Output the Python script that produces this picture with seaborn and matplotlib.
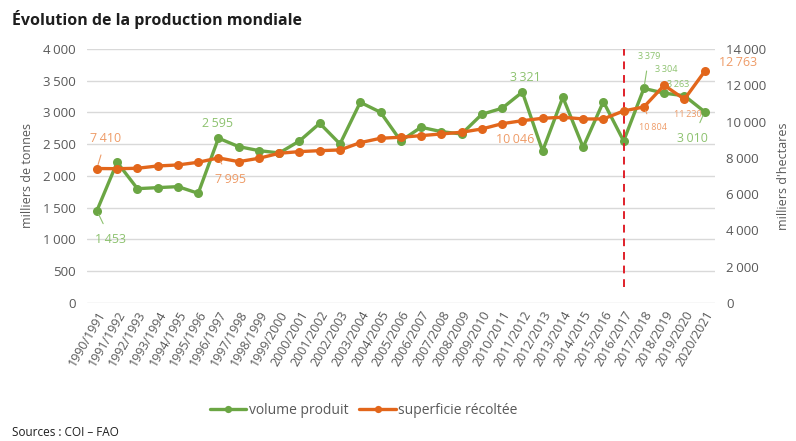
import matplotlib
matplotlib.use("Agg")
import matplotlib.pyplot as plt
import seaborn as sns
import pandas as pd
from matplotlib.ticker import FuncFormatter, MultipleLocator

# ---------------- data ----------------
campagnes = ["1990/1991", "1991/1992", "1992/1993", "1993/1994", "1994/1995",
             "1995/1996", "1996/1997", "1997/1998", "1998/1999", "1999/2000",
             "2000/2001", "2001/2002", "2002/2003", "2003/2004", "2004/2005",
             "2005/2006", "2006/2007", "2007/2008", "2008/2009", "2009/2010",
             "2010/2011", "2011/2012", "2012/2013", "2013/2014", "2014/2015",
             "2015/2016", "2016/2017", "2017/2018", "2018/2019", "2019/2020",
             "2020/2021"]
volume_produit = [1453, 2215, 1800, 1816, 1832, 1727, 2595, 2462, 2399, 2362,
                  2551, 2829, 2504, 3160, 3003, 2551, 2767, 2698, 2661, 2971,
                  3066, 3321, 2394, 3239, 2452, 3170, 2551, 3379, 3304, 3263,
                  3010]
superficie_recoltee = [7410, 7400, 7424, 7551, 7606, 7755, 7995, 7789, 7975, 8250,
                       8342, 8395, 8433, 8836, 9078, 9133, 9222, 9315, 9409, 9590,
                       9880, 10046, 10180, 10235, 10142, 10142, 10583, 10804, 11999, 11230,
                       12763]
campagne_rupture = "2016/2017"
# labelled points: (campagne, offset px x, offset px y, fontsize, leader)
labels_volume = [("1990/1991", 14, -29, 9, True), ("1996/1997", -1, 15, 9, False),
                 ("2011/2012", 3, 15, 9, False), ("2017/2018", 5, 32, 6.5, True),
                 ("2018/2019", 2, 24, 6.5, False), ("2019/2020", -6, 11, 6.5, False),
                 ("2020/2021", -12, -27, 9, True)]
labels_superficie = [("1990/1991", 9, 30, 9, True), ("1996/1997", 12, -22, 9, True),
                     ("2011/2012", -7, -19, 9, False), ("2017/2018", 9, -21, 6.5, True),
                     ("2019/2020", 3, -15, 6.5, False), ("2020/2021", 33, 9, 9, False)]

GREEN = "#6BA644"
ORANGE = "#E2661B"
GREEN_TXT = "#8DC26F"
ORANGE_TXT = "#EE9B67"
GRAY = "#595959"

sns.set_theme(style="white")
plt.rcParams["font.family"] = ["Open Sans", "DejaVu Sans"]

df = pd.DataFrame({"idx": range(len(campagnes)), "campagne": campagnes,
                   "volume": volume_produit, "superficie": superficie_recoltee})

fig = plt.figure(figsize=(7.96, 4.41), dpi=100)
ax = fig.add_axes([0.109, 0.313, 0.789, 0.576])
ax2 = ax.twinx()

sns.lineplot(data=df, x="idx", y="volume", ax=ax, color=GREEN, lw=2.4,
             marker="o", markersize=6.5, markeredgewidth=0, label="volume produit",
             legend=False, zorder=3)
sns.lineplot(data=df, x="idx", y="superficie", ax=ax2, color=ORANGE, lw=2.4,
             marker="o", markersize=6.5, markeredgewidth=0, label="superficie récoltée",
             legend=False, zorder=3)

ax.set_xlim(-0.5, len(campagnes) - 0.5)
ax.set_ylim(0, 4000)
ax2.set_ylim(0, 14000)
ax.yaxis.set_major_locator(MultipleLocator(500))
ax2.yaxis.set_major_locator(MultipleLocator(2000))
fmt = FuncFormatter(lambda v, p: f"{int(v):,}".replace(",", "\u202f"))
ax.yaxis.set_major_formatter(fmt)
ax2.yaxis.set_major_formatter(fmt)
ax.set_xticks(range(len(campagnes)))
ax.set_xticklabels(campagnes, rotation=60, ha="right", rotation_mode="anchor",
                   fontsize=9, color=GRAY)
ax.tick_params(axis="x", length=0, pad=4)
ax.tick_params(axis="y", length=0, labelsize=9.5, labelcolor=GRAY, pad=8)
ax2.tick_params(axis="y", length=0, labelsize=9.5, labelcolor=GRAY, pad=8)
ax.grid(axis="y", color="#D9D9D9", lw=1)
ax.set_axisbelow(True)
for a in (ax, ax2):
    for s in a.spines.values():
        s.set_visible(False)
ax.set_xlabel("")
ax.set_ylabel("milliers de tonnes", fontsize=9, color=GRAY, labelpad=6)
ax2.set_ylabel("milliers d'hectares", fontsize=9, color=GRAY, labelpad=8)

# reference line
xr = campagnes.index(campagne_rupture)
ax.vlines(xr, 250, 4000, colors="#E0202A", linestyles=(0, (4, 3)), lw=1.4, zorder=4)

def put_labels(axis, values, specs, color):
    for camp, dx, dy, fs, leader in specs:
        i = campagnes.index(camp)
        v = values[i]
        txt = f"{v:,}".replace(",", "\u202f")
        axis.annotate(txt, xy=(i, v), xytext=(dx, dy), textcoords="offset pixels",
                      ha="center", va="center", fontsize=fs, color=color, zorder=6,
                      arrowprops=dict(arrowstyle="-", color=color, lw=0.8,
                                      shrinkA=5, shrinkB=3) if leader else None)

put_labels(ax, volume_produit, labels_volume, GREEN_TXT)
put_labels(ax2, superficie_recoltee, labels_superficie, ORANGE_TXT)

h1, l1 = ax.get_legend_handles_labels()
h2, l2 = ax2.get_legend_handles_labels()
fig.legend(h1 + h2, l1 + l2, loc="center", bbox_to_anchor=(0.457, 0.070), ncol=2,
           frameon=False, fontsize=10, handlelength=2.6, handletextpad=0.2,
           columnspacing=0.8, labelcolor=GRAY, markerscale=0.8)

fig.text(0.015, 0.955, "Évolution de la production mondiale", fontsize=11.5,
         fontweight="bold", color="#1E1E1E", va="center", ha="left")
fig.text(0.015, 0.02, "Sources : COI \u2013 FAO", fontsize=8.5, color="#1E1E1E",
         va="center", ha="left")

fig.savefig("out.png", dpi=100)
